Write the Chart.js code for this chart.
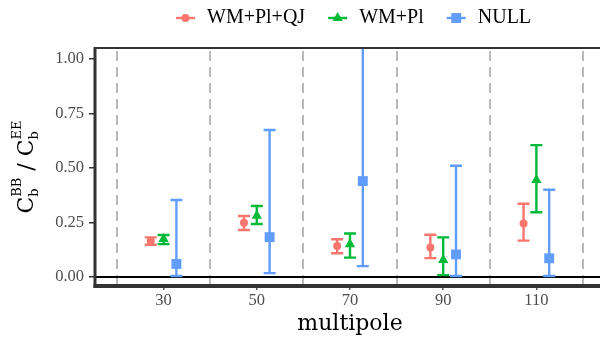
<!DOCTYPE html>
<html>
<head>
<meta charset="utf-8">
<script src="https://cdn.jsdelivr.net/npm/chart.js@4.4.0/dist/chart.umd.min.js"></script>
<style>
  html, body { margin: 0; padding: 0; background: #fff; }
  #wrap { width: 600px; height: 339px; }
</style>
</head>
<body>
<div id="wrap"><canvas id="chart"></canvas></div>
<script>
// data
const multipoles = [30, 50, 70, 90, 110];
const seriesNames = ["WM+Pl+QJ", "WM+Pl", "NULL"];

const qjMid  = [0.165, 0.249, 0.142, 0.136, 0.246];
const qjLow  = [0.148, 0.216, 0.109, 0.087, 0.167];
const qjHigh = [0.182, 0.280, 0.173, 0.194, 0.336];

const plMid  = [0.174, 0.281, 0.150, 0.078, 0.445];
const plLow  = [0.151, 0.243, 0.089, 0.009, 0.297];
const plHigh = [0.193, 0.326, 0.200, 0.182, 0.605];

const nullMid  = [0.060, 0.183, 0.440, 0.104, 0.086];
const nullLow  = [0.005, 0.018, 0.050, 0.005, 0.005];
const nullHigh = [0.353, 0.674, 1.070, 0.510, 0.400];

const xTicks = [30, 50, 70, 90, 110];
const yTicks = [0, 0.25, 0.5, 0.75, 1];
const sepLines = [20, 40, 60, 80, 100, 120];

// styling
const mids = [qjMid, plMid, nullMid];
const lows = [qjLow, plLow, nullLow];
const highs = [qjHigh, plHigh, nullHigh];
const colors = ["#F8766D", "#00BA38", "#619CFF"];
const shapes = ["circle", "triangle", "rect"];
const radii = [4, 6, 7];
const dodge = [-2.75, 0, 2.75];
const tickFont = { family: "Liberation Serif", size: 16.5 };

const decor = {
  id: "decor",
  beforeDatasetsDraw(chart) {
    const { ctx, chartArea: a, scales: { x, y } } = chart;
    ctx.save();
    ctx.beginPath();
    ctx.rect(a.left, a.top, a.right - a.left, a.bottom - a.top);
    ctx.clip();

    // dashed separators between multipole bins
    ctx.strokeStyle = "#bababa";
    ctx.lineWidth = 2;
    ctx.setLineDash([10, 6]);
    sepLines.forEach(v => {
      const px = Math.round(x.getPixelForValue(v));
      ctx.beginPath();
      ctx.moveTo(px, a.top + 3);
      ctx.lineTo(px, a.bottom);
      ctx.stroke();
    });
    ctx.setLineDash([]);
    ctx.restore();

    // zero line
    ctx.save();
    const y0 = y.getPixelForValue(0);
    ctx.strokeStyle = "#000";
    ctx.lineWidth = 2;
    ctx.beginPath();
    ctx.moveTo(a.left, y0);
    ctx.lineTo(600, y0);
    ctx.stroke();

    // error bars
    ctx.beginPath();
    ctx.rect(a.left, a.top, a.right - a.left, a.bottom - a.top);
    ctx.clip();
    ctx.lineWidth = 2.4;
    mids.forEach((_, i) => {
      ctx.strokeStyle = colors[i];
      multipoles.forEach((m, j) => {
        const px = x.getPixelForValue(m + dodge[i]);
        const lo = y.getPixelForValue(lows[i][j]);
        const hi = y.getPixelForValue(highs[i][j]);
        ctx.beginPath();
        ctx.moveTo(px, lo); ctx.lineTo(px, hi);
        ctx.moveTo(px - 6, lo); ctx.lineTo(px + 6, lo);
        ctx.moveTo(px - 6, hi); ctx.lineTo(px + 6, hi);
        ctx.stroke();
      });
    });
    ctx.restore();
  },
  afterDraw(chart) {
    const { ctx, chartArea: a } = chart;
    ctx.save();

    // panel frame
    ctx.strokeStyle = "#333";
    ctx.lineWidth = 2;
    ctx.beginPath(); ctx.moveTo(a.left, a.top); ctx.lineTo(600, a.top); ctx.stroke();
    ctx.lineWidth = 3;
    ctx.beginPath(); ctx.moveTo(a.left, a.top - 1); ctx.lineTo(a.left, a.bottom + 2); ctx.stroke();
    ctx.lineWidth = 4;
    ctx.beginPath(); ctx.moveTo(a.left - 1.5, a.bottom); ctx.lineTo(600, a.bottom); ctx.stroke();

    // x title
    ctx.fillStyle = "#000";
    ctx.font = '22px "DejaVu Serif"';
    ctx.textAlign = "center";
    ctx.textBaseline = "middle";
    ctx.fillText("multipole", 350, 324);
    ctx.textAlign = "left";

    // legend
    ctx.font = '20px "Liberation Serif"';
    let lx = 176;
    const ly = 18;
    seriesNames.forEach((name, i) => {
      ctx.strokeStyle = colors[i];
      ctx.lineWidth = 2.4;
      ctx.beginPath(); ctx.moveTo(lx, ly); ctx.lineTo(lx + 19, ly); ctx.stroke();
      ctx.fillStyle = colors[i];
      Chart.helpers.drawPoint(ctx, { pointStyle: shapes[i], radius: radii[i], rotation: 0, borderWidth: 0 }, lx + 9.5, ly);
      ctx.fillStyle = "#000";
      ctx.fillText(name, lx + 31, ly);
      lx += 31 + ctx.measureText(name).width + 23;
    });

    // y title: C_b^BB / C_b^EE
    const big = '22px "DejaVu Serif"', small = '13px "DejaVu Serif"';
    const parts = [["C", "b", "BB"], ["C", "b", "EE"]];
    ctx.font = big;
    const wC = ctx.measureText("C").width;
    const wSlash = ctx.measureText(" / ").width;
    ctx.font = small;
    const wScr = parts.map(p => Math.max(ctx.measureText(p[1]).width, ctx.measureText(p[2]).width));
    const total = 2 * wC + wScr[0] + wScr[1] + wSlash;
    ctx.translate(33, 167 + total / 2);
    ctx.rotate(-Math.PI / 2);
    ctx.textBaseline = "alphabetic";
    let cx = 0;
    parts.forEach((p, k) => {
      ctx.font = big;
      ctx.fillText(p[0], cx, 0);
      cx += wC;
      ctx.font = small;
      ctx.fillText(p[1], cx, 5);
      ctx.fillText(p[2], cx, -12);
      cx += wScr[k];
      if (k === 0) {
        ctx.font = big;
        ctx.fillText(" / ", cx, 0);
        cx += wSlash;
      }
    });
    ctx.restore();
  }
};

new Chart(document.getElementById("chart"), {
  type: "scatter",
  data: {
    datasets: seriesNames.map((name, i) => ({
      label: name,
      data: multipoles.map((m, j) => ({ x: m + dodge[i], y: mids[i][j] })),
      pointStyle: shapes[i],
      pointRadius: radii[i],
      backgroundColor: colors[i],
      borderColor: colors[i],
      borderWidth: 0
    }))
  },
  options: {
    responsive: true,
    maintainAspectRatio: false,
    animation: false,
    events: [],
    layout: { padding: { top: 48, right: 1, left: 0, bottom: 0 } },
    plugins: { legend: { display: false }, tooltip: { enabled: false } },
    scales: {
      x: {
        type: "linear",
        min: 15.28,
        max: 122.15,
        afterBuildTicks: s => { s.ticks = xTicks.map(v => ({ value: v })); },
        afterFit: s => { s.height = 53; },
        grid: { drawOnChartArea: false, drawTicks: true, tickLength: 4, color: "#555", lineWidth: 1.5 },
        border: { display: false },
        ticks: { font: tickFont, color: "#4d4d4d", padding: 1, maxRotation: 0, autoSkip: false }
      },
      y: {
        min: -0.041,
        max: 1.05,
        afterBuildTicks: s => { s.ticks = yTicks.map(v => ({ value: v })); },
        afterFit: s => { s.width = 95; },
        grid: { drawOnChartArea: false, drawTicks: true, tickLength: 6, color: "#333", lineWidth: 1.5 },
        border: { display: false },
        ticks: { font: tickFont, color: "#4d4d4d", padding: 5, callback: v => v.toFixed(2) }
      }
    }
  },
  plugins: [decor]
});
</script>
</body>
</html>
